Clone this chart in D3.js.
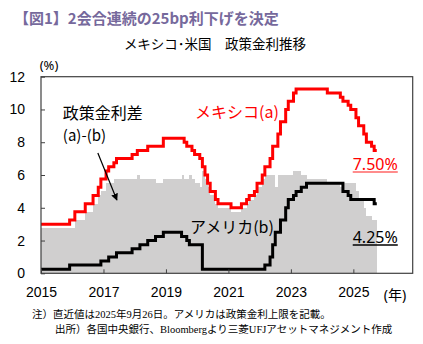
<!DOCTYPE html>
<html><head><meta charset="utf-8">
<script src="https://cdn.jsdelivr.net/npm/d3@7"></script>
<style>
html,body{margin:0;padding:0;background:#fff;}
svg{display:block;}
text{font-family:"Noto Sans","Noto Sans CJK JP",sans-serif;}
</style></head>
<body>
<svg id="c" width="423" height="344"></svg>
<script>
// ---- data (month-end values, Jan 2015 .. Sep 2025) ----
const startYear = 2015;
const mexico = [
  3.00,3.00,3.00,3.00,3.00,3.00,3.00,3.00,3.00,3.00,3.00,3.25, // 2015
  3.25,3.75,3.75,3.75,3.75,4.25,4.25,4.25,4.75,4.75,5.25,5.75, // 2016
  5.75,6.25,6.50,6.50,6.75,7.00,7.00,7.00,7.00,7.00,7.00,7.25, // 2017
  7.25,7.50,7.50,7.50,7.50,7.75,7.75,7.75,7.75,7.75,7.75,8.25, // 2018
  8.25,8.25,8.25,8.25,8.25,8.25,8.25,8.00,7.75,7.75,7.50,7.25, // 2019
  7.25,7.00,6.50,6.00,5.50,5.00,5.00,4.50,4.25,4.25,4.25,4.25, // 2020
  4.25,4.00,4.00,4.00,4.00,4.25,4.25,4.50,4.75,4.75,5.00,5.50, // 2021
  5.50,6.00,6.50,6.50,7.00,7.75,7.75,8.50,9.25,9.25,10.00,10.50, // 2022
  10.50,11.00,11.25,11.25,11.25,11.25,11.25,11.25,11.25,11.25,11.25,11.25, // 2023
  11.25,11.25,11.00,11.00,11.00,11.00,11.00,10.75,10.50,10.50,10.25,10.00, // 2024
  10.00,9.50,9.00,9.00,8.50,8.00,8.00,7.75,7.50 // 2025
];
const usa = [
  0.25,0.25,0.25,0.25,0.25,0.25,0.25,0.25,0.25,0.25,0.25,0.50,
  0.50,0.50,0.50,0.50,0.50,0.50,0.50,0.50,0.50,0.50,0.50,0.75,
  0.75,0.75,1.00,1.00,1.00,1.25,1.25,1.25,1.25,1.25,1.25,1.50,
  1.50,1.50,1.75,1.75,1.75,2.00,2.00,2.00,2.25,2.25,2.25,2.50,
  2.50,2.50,2.50,2.50,2.50,2.50,2.25,2.25,2.00,1.75,1.75,1.75,
  1.75,1.75,0.25,0.25,0.25,0.25,0.25,0.25,0.25,0.25,0.25,0.25,
  0.25,0.25,0.25,0.25,0.25,0.25,0.25,0.25,0.25,0.25,0.25,0.25,
  0.25,0.25,0.50,0.50,1.00,1.75,2.50,2.50,3.25,3.25,4.00,4.50,
  4.50,4.75,5.00,5.00,5.25,5.25,5.50,5.50,5.50,5.50,5.50,5.50,
  5.50,5.50,5.50,5.50,5.50,5.50,5.50,5.50,5.00,5.00,4.75,4.50,
  4.50,4.50,4.50,4.50,4.50,4.50,4.50,4.50,4.25
];
const yTicks = [0,2,4,6,8,10,12];
const xTickYears = [2015,2017,2019,2021,2023,2025];

const title = "【図1】2会合連続の25bp利下げを決定";
const subtitle = "メキシコ･米国　政策金利推移";
const note1 = "注）直近値は2025年9月26日。アメリカは政策金利上限を記載。";
const note2 = "出所）各国中央銀行、Bloombergより三菱UFJアセットマネジメント作成";

// ---- layout ----
const L = 41, R = 412.7, T = 76.7, B = 273.3;
const svg = d3.select("#c");
const x = d3.scaleLinear().domain([2015, 2026.9]).range([L, R]);
const y = d3.scaleLinear().domain([0, 12]).range([B, T]);
const t = i => startYear + i / 12;

const spread = mexico.map((v, i) => v - usa[i]);

// bars
svg.append("g").attr("shape-rendering", "crispEdges")
  .selectAll("rect").data(spread).join("rect")
  .attr("x", (d, i) => x(t(i)))
  .attr("width", (d, i) => x(t(i + 1)) - x(t(i)))
  .attr("y", d => y(d))
  .attr("height", d => y(0) - y(d))
  .attr("fill", "#d0cfcf");

// lines
const n = mexico.length;
const pts = arr => arr.map((v, i) => [t(i), v]).concat([[t(n), arr[n - 1]]]);
const line = d3.line().x(d => x(d[0])).y(d => y(d[1])).curve(d3.curveStepAfter);
svg.append("path").attr("d", line(pts(usa))).attr("fill", "none")
  .attr("stroke", "#000").attr("stroke-width", 3);
svg.append("path").attr("d", line(pts(mexico))).attr("fill", "none")
  .attr("stroke", "#ff0000").attr("stroke-width", 3);

// frame
svg.append("rect").attr("x", L).attr("y", T).attr("width", R - L).attr("height", B - T)
  .attr("fill", "none").attr("stroke", "#404040").attr("stroke-width", 1.2);

// y axis (ticks inside)
const yAxis = d3.axisLeft(y).tickValues(yTicks).tickSizeInner(-4).tickSizeOuter(0).tickPadding(16);
const gy = svg.append("g").attr("transform", `translate(${L},0)`).call(yAxis);
gy.select(".domain").remove();
gy.selectAll("line").attr("stroke", "#404040");
gy.selectAll("text").attr("font-size", 14).attr("fill", "#000")
  .style("font-family", "'Liberation Sans',Arial,sans-serif");

// x axis (ticks inside)
const xAxis = d3.axisBottom(x).tickValues(xTickYears).tickFormat(d3.format("d"))
  .tickSizeInner(-4).tickSizeOuter(0).tickPadding(14);
const gx = svg.append("g").attr("transform", `translate(0,${B})`).call(xAxis);
gx.select(".domain").remove();
gx.selectAll("line").attr("stroke", "#404040");
gx.selectAll("text").attr("font-size", 14).attr("fill", "#000")
  .style("font-family", "'Liberation Sans',Arial,sans-serif");

// axis units
svg.append("text").attr("x", 49).attr("y", 70).attr("text-anchor", "middle")
  .attr("font-size", 13).text("(%)");
svg.append("text").attr("x", 395).attr("y", 300).attr("text-anchor", "middle")
  .attr("font-size", 14).text("(年)");

// titles
svg.append("text").attr("x", 14).attr("y", 24).attr("font-size", 15).attr("font-weight", "bold")
  .attr("fill", "#76699c").style("font-family", "'Noto Sans CJK JP',sans-serif").text(title);
svg.append("text").attr("x", 215).attr("y", 49).attr("text-anchor", "middle").attr("font-size", 13.5)
  .attr("fill", "#000").style("font-family", "'Noto Sans CJK JP',sans-serif").text(subtitle);

// annotations
svg.append("text").attr("x", x(2015.70)).attr("y", y(9.39)).attr("font-size", 16)
  .style("font-family", "'Noto Sans CJK JP',sans-serif").text("政策金利差");
svg.append("text").attr("x", x(2015.70)).attr("y", y(8.1)).attr("font-size", 15)
  .style("font-family", "'Noto Sans CJK JP',sans-serif").text("(a)-(b)");
svg.append("defs").append("marker").attr("id", "ah").attr("viewBox", "0 0 10 10")
  .attr("refX", 9).attr("refY", 5).attr("markerWidth", 7).attr("markerHeight", 7)
  .attr("markerUnits", "userSpaceOnUse").attr("orient", "auto")
  .append("path").attr("d", "M0,0L10,5L0,10Z").attr("fill", "#000");
svg.append("line").attr("x1", x(2016.82)).attr("y1", y(7.34)).attr("x2", x(2017.43)).attr("y2", y(4.47))
  .attr("stroke", "#000").attr("stroke-width", 1.2).attr("marker-end", "url(#ah)");

svg.append("text").attr("x", x(2019.93)).attr("y", y(9.45)).attr("font-size", 16).attr("fill", "#ff0000")
  .style("font-family", "'Noto Sans CJK JP',sans-serif").text("メキシコ(a)");
svg.append("text").attr("x", x(2019.77)).attr("y", y(2.45)).attr("font-size", 16).attr("fill", "#000")
  .style("font-family", "'Noto Sans CJK JP',sans-serif").text("アメリカ(b)");

function endLabel(val, color, ulColor, yy) {
  const tx = svg.append("text").attr("x", x(2024.98)).attr("y", y(yy)).attr("font-size", 16)
    .attr("fill", color).style("font-family", "'Noto Sans',sans-serif").text(val.toFixed(2) + "%");
  const bb = tx.node().getBBox();
  svg.append("line").attr("x1", bb.x).attr("x2", bb.x + bb.width)
    .attr("y1", y(yy) + 2).attr("y2", y(yy) + 2).attr("stroke", ulColor).attr("stroke-width", 1.5);
}
endLabel(mexico[n - 1], "#ff0000", "#ff6666", 6.3);
endLabel(usa[n - 1], "#000", "#000", 1.85);

// notes
svg.append("text").attr("x", 32).attr("y", 318).attr("font-size", 10.5)
  .style("font-family", "'Liberation Serif','Noto Sans CJK JP',serif").text(note1);
svg.append("text").attr("x", 55).attr("y", 333).attr("font-size", 10.5)
  .style("font-family", "'Liberation Serif','Noto Sans CJK JP',serif").text(note2);
</script>
</body></html>
